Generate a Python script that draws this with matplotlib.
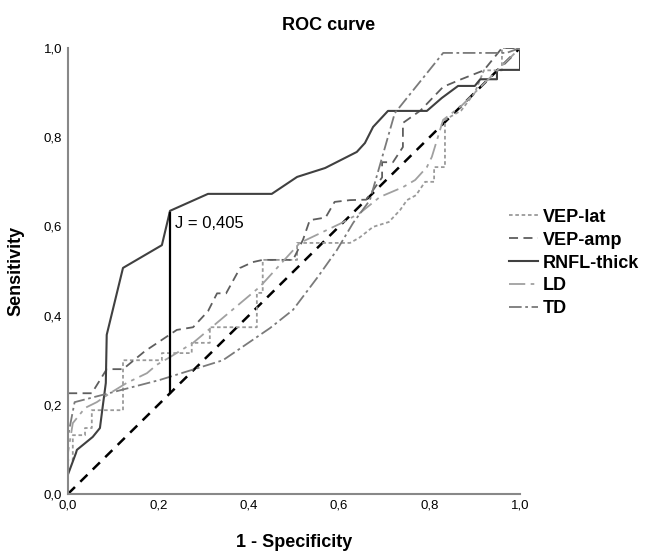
import matplotlib
matplotlib.use('Agg')
import matplotlib.pyplot as plt
from matplotlib.ticker import FuncFormatter

plt.rcParams['font.family'] = ['Liberation Sans', 'DejaVu Sans']

# ROC curves: (1 - specificity, sensitivity)
vep_lat_fpr = [0, 0, 0.011, 0.011, 0.038, 0.038, 0.053, 0.053, 0.122, 0.122, 0.208, 0.208,
               0.274, 0.274, 0.314, 0.314, 0.418, 0.418, 0.431, 0.431, 0.507, 0.507, 0.624,
               0.645, 0.675, 0.71, 0.735, 0.75, 0.77, 0.79, 0.81, 0.81, 0.834, 0.834, 0.87,
               0.9, 0.92, 0.96, 0.96, 1.0]
vep_lat_tpr = [0, 0.076, 0.076, 0.132, 0.132, 0.148, 0.148, 0.188, 0.188, 0.30, 0.30, 0.316,
               0.316, 0.339, 0.339, 0.374, 0.374, 0.451, 0.451, 0.525, 0.525, 0.563, 0.563,
               0.575, 0.599, 0.61, 0.637, 0.659, 0.67, 0.70, 0.70, 0.733, 0.733, 0.839, 0.86,
               0.9, 0.95, 0.95, 1.0, 1.0]

vep_amp_fpr = [0, 0, 0.053, 0.086, 0.122, 0.17, 0.241, 0.277, 0.31, 0.33, 0.35, 0.381, 0.409,
               0.431, 0.498, 0.52, 0.535, 0.57, 0.59, 0.624, 0.66, 0.695, 0.695, 0.719, 0.741,
               0.741, 0.78, 0.83, 0.87, 0.92, 0.96, 1.0]
vep_amp_tpr = [0, 0.226, 0.226, 0.28, 0.28, 0.32, 0.368, 0.374, 0.41, 0.45, 0.45, 0.507, 0.52,
               0.525, 0.525, 0.57, 0.614, 0.62, 0.655, 0.659, 0.66, 0.71, 0.744, 0.744, 0.778,
               0.832, 0.86, 0.913, 0.93, 0.95, 1.0, 1.0]

rnfl_fpr = [0, 0, 0.018, 0.02, 0.055, 0.071, 0.077, 0.084, 0.086, 0.122, 0.208, 0.226, 0.310,
            0.451, 0.507, 0.569, 0.639, 0.657, 0.675, 0.708, 0.794, 0.827, 0.863, 0.900,
            0.912, 0.949, 0.949, 1.0, 1.0]
rnfl_tpr = [0, 0.043, 0.092, 0.099, 0.128, 0.148, 0.195, 0.249, 0.357, 0.507, 0.558, 0.635,
            0.673, 0.673, 0.711, 0.731, 0.767, 0.787, 0.823, 0.859, 0.859, 0.888, 0.915,
            0.915, 0.930, 0.930, 0.951, 0.951, 1.0]

ld_fpr = [0, 0, 0.011, 0.038, 0.064, 0.093, 0.13, 0.175, 0.197, 0.226, 0.277, 0.425, 0.513,
          0.606, 0.646, 0.69, 0.741, 0.768, 0.794, 0.805, 0.83, 0.87, 0.93, 0.97, 1.0]
ld_tpr = [0, 0.09, 0.159, 0.193, 0.206, 0.226, 0.249, 0.271, 0.29, 0.307, 0.339, 0.465, 0.563,
          0.608, 0.63, 0.666, 0.688, 0.704, 0.733, 0.756, 0.839, 0.87, 0.93, 0.97, 1.0]

td_fpr = [0, 0, 0.015, 0.204, 0.343, 0.447, 0.498, 0.553, 0.595, 0.631, 0.668, 0.723, 0.830,
          0.97, 1.0]
td_tpr = [0, 0.128, 0.206, 0.256, 0.300, 0.372, 0.413, 0.487, 0.547, 0.608, 0.659, 0.854,
          0.989, 0.989, 1.0]

youden_x = 0.226
youden_j = 0.405

fig = plt.figure(figsize=(6.46, 5.52), dpi=100)
ax = fig.add_axes([0.105, 0.105, 0.70, 0.808])

ax.plot([0, 1], [0, 1], color='black', lw=1.8, dashes=(4, 3))
ax.plot(vep_lat_fpr, vep_lat_tpr, color='#9a9a9a', lw=1.3, dashes=(2, 1.5), label='VEP-lat')
ax.plot(vep_amp_fpr, vep_amp_tpr, color='#5e5e5e', lw=1.3, dashes=(5, 3), label='VEP-amp')
ax.plot(rnfl_fpr, rnfl_tpr, color='#404040', lw=1.5, label='RNFL-thick')
ax.plot(ld_fpr, ld_tpr, color='#a0a0a0', lw=1.3, dashes=(9, 3, 2, 3), label='LD')
ax.plot(td_fpr, td_tpr, color='#7a7a7a', lw=1.3, dashes=(7, 2, 1.5, 2), label='TD')

# Youden index line
ax.plot([youden_x, youden_x], [youden_x, youden_x + youden_j], color='black', lw=1.6)
ax.text(youden_x + 0.01, 0.607, 'J = 0,405', fontsize=12, va='center', ha='left')

ax.set_xlim(0, 1)
ax.set_ylim(0, 1)
ax.set_xticks([0, 0.2, 0.4, 0.6, 0.8, 1.0])
ax.set_yticks([0, 0.2, 0.4, 0.6, 0.8, 1.0])
fmt = FuncFormatter(lambda v, p: f'{v:.1f}'.replace('.', ','))
ax.xaxis.set_major_formatter(fmt)
ax.yaxis.set_major_formatter(fmt)
ax.tick_params(length=0, labelsize=9.5, pad=4)

for s in ['top', 'right']:
    ax.spines[s].set_visible(False)
for s in ['left', 'bottom']:
    ax.spines[s].set_color('#888888')
    ax.spines[s].set_linewidth(1.5)

fig.text(0.508, 1 - 25 / 552, 'ROC curve', fontsize=13, fontweight='bold',
         ha='center', va='center')
ax.set_xlabel('1 - Specificity', fontsize=13, fontweight='bold', labelpad=16)
ax.set_ylabel('Sensitivity', fontsize=13, fontweight='bold', labelpad=14)

leg = ax.legend(loc='center left', bbox_to_anchor=(0.976, 0.518), frameon=False,
                prop={'weight': 'bold', 'size': 13}, handlelength=1.6, handletextpad=0.25,
                labelspacing=0.33, borderaxespad=0, borderpad=0)

plt.savefig('out.png', dpi=100)
